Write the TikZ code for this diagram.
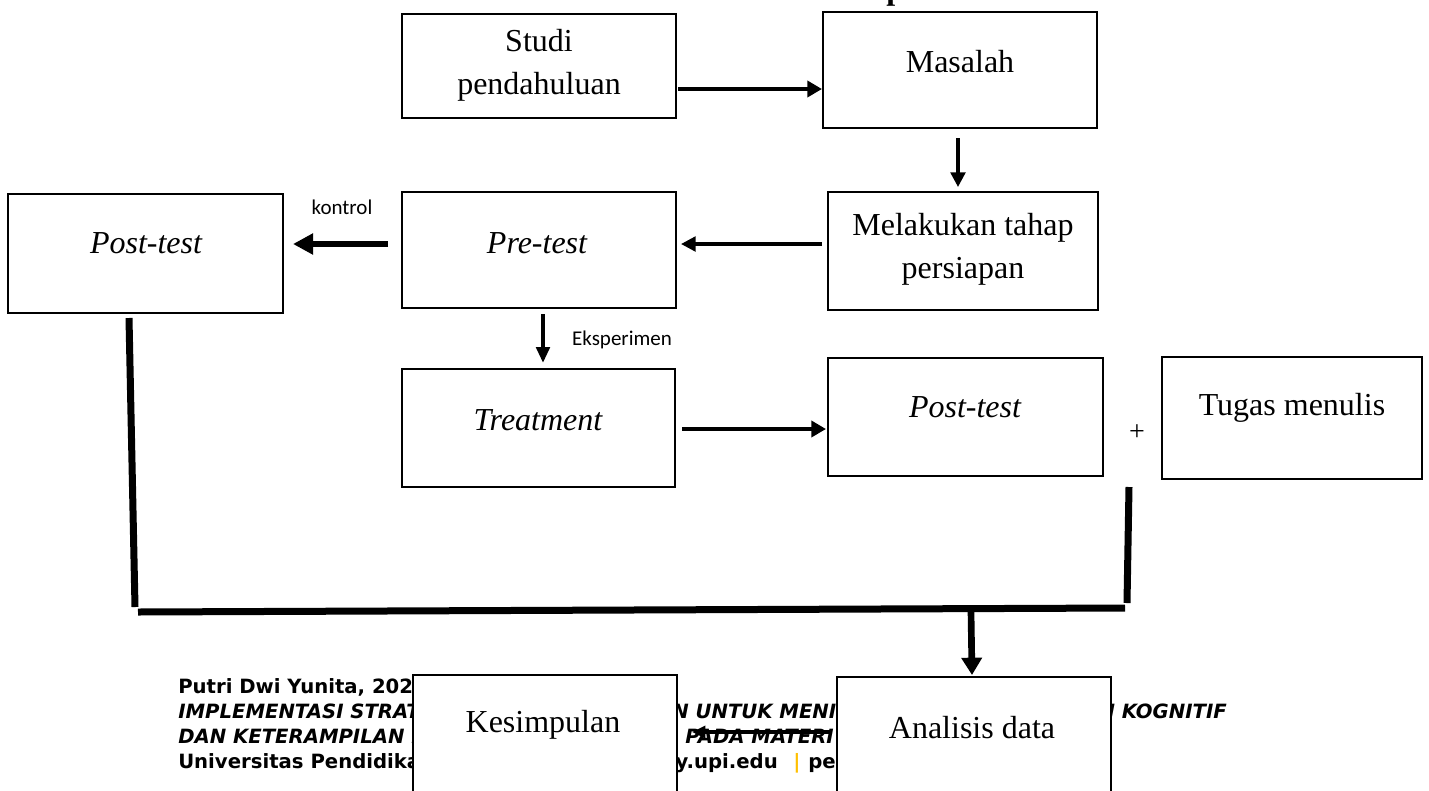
\documentclass[tikz,border=0pt]{standalone}
\usepackage{fontspec}
\setmainfont{Liberation Serif}
\newfontfamily\lblfont{Carlito}
\newfontfamily\footfont{DejaVu Sans}
\usetikzlibrary{arrows.meta,calc}
\definecolor{upiorange}{RGB}{255,192,0}
\begin{document}
\begin{tikzpicture}[x=0.75pt,y=-0.75pt]
\tikzset{
  box/.style={draw=black, line width=1.5pt, fill=white, inner sep=0pt},
  btxt/.style={font=\fontsize{24}{32}\selectfont, align=center, inner sep=0pt},
  itxt/.style={font=\fontsize{24}{32}\selectfont\itshape, align=center, inner sep=0pt},
  lbl/.style={font=\lblfont\fontsize{15.75}{18}\selectfont, inner sep=0pt},
  foot/.style={font=\footfont\bfseries\fontsize{14.75}{18}\selectfont, anchor=base west, inner sep=0pt},
  footi/.style={font=\footfont\bfseries\itshape\fontsize{14.75}{18}\selectfont, anchor=base west, inner sep=0pt},
  a1/.style={line width=3pt, -{Triangle[length=11pt,width=12pt]}},
  a2/.style={line width=2.5pt, -{Triangle[length=11pt,width=11pt]}},
  akontrol/.style={line width=4.5pt, -{Triangle[length=15pt,width=15pt]}},
  aeks/.style={line width=3pt, -{Triangle[length=12pt,width=10pt]}},
  adown/.style={line width=5pt, -{Triangle[length=13pt,width=15pt]}},
  aback/.style={line width=3pt, -{Triangle[length=10pt,width=9pt]}},
  thickline/.style={line width=5.25pt},
}
\fill[white] (0,0) rectangle (1429,790);
\useasboundingbox (0,0) rectangle (1429,790);

% cropped title
\node[font=\bfseries\fontsize{24}{30}\selectfont, anchor=base west, inner sep=0pt] (title) at (886,-1) {p};

% footer text (partly hidden by boxes)
\node[foot] (f1) at (178,693) {Putri Dwi Yunita, 2023};
\node[footi] (f2a) at (178,718) {IMPLEMENTASI STRATEGI};
\node[footi] (f2b) at (672,718) {N UNTUK MENINGKATKAN};
\node[footi, anchor=base east] (f2c) at (1227,718) {KEMAMPUAN KOGNITIF};
\node[footi] (f3a) at (178,743) {DAN KETERAMPILAN MENULIS};
\node[footi] (f3b) at (685,743) {PADA MATERI TEKS};
\node[foot] (f4a) at (178,768) {Universitas Pendidikan Indonesia};
\node[foot, anchor=base east] (f4b) at (778,768) {repository.upi.edu};
\node[foot, text=upiorange, anchor=base] (f4c) at (797,768) {|};
\node[foot] (f4d) at (808,768) {perpustakaan.upi.edu};

% boxes
\node[box, minimum width=205.5pt, minimum height=78pt] (studi) at (539,66) {};
\node[box, minimum width=205.5pt, minimum height=87pt] (masalah) at (960,70) {};
\node[box, minimum width=202.5pt, minimum height=88.5pt] (melakukan) at (963,251) {};
\node[box, minimum width=205.5pt, minimum height=87pt] (pre) at (539,250) {};
\node[box, minimum width=206.25pt, minimum height=89.25pt] (postL) at (145.5,253.5) {};
\node[box, minimum width=204.75pt, minimum height=88.5pt] (treat) at (538.5,428) {};
\node[box, minimum width=206.25pt, minimum height=88.5pt] (postR) at (965.5,417) {};
\node[box, minimum width=195pt, minimum height=91.5pt] (tugas) at (1292,418) {};
\node[box, minimum width=198pt, minimum height=109.5pt, anchor=north west] (kes) at (412,674) {};
\node[box, minimum width=205.5pt, minimum height=109.5pt, anchor=north west] (anal) at (836,676) {};

% box texts
\node[btxt] (studi-t) at (539,65.5) {Studi\\pendahuluan};
\node[btxt] (masalah-t) at (960,62) {Masalah};
\node[btxt] (melakukan-t) at (963,249) {Melakukan tahap\\persiapan};
\node[itxt] (pre-t) at (537,243) {Pre-test};
\node[itxt] (postL-t) at (146,243) {Post-test};
\node[itxt] (treat-t) at (538,420) {Treatment};
\node[itxt] (postR-t) at (965,407) {Post-test};
\node[btxt] (tugas-t) at (1292,408) {Tugas menulis};
\node[btxt, font=\fontsize{21}{24}\selectfont] (plus) at (1137,433) {+};
\node[btxt] (kes-t) at (543,725) {Kesimpulan};
\node[btxt] (anal-t) at (972,728) {Analisis data};

% labels
\node[lbl] (kontrol) at (342,207) {kontrol};
\node[lbl] (eksperimen) at (622,340) {Eksperimen};

% connectors
\draw[a1] ($(studi.east)+(1,23)$) -- ($(masalah.west)+(0,19)$);
\draw[a2] ($(masalah.south)+(-2,9)$) -- ($(melakukan.north)+(-5,-4)$);
\draw[a2] ($(melakukan.west)+(-5,-7)$) -- ($(pre.east)+(4,-6)$);
\draw[akontrol] ($(pre.west)+(-13,-6)$) -- ($(postL.east)+(9,-9.5)$);
\draw[aeks] ($(pre.south)+(4,5)$) -- ($(treat.north)+(4.5,-5)$);
\draw[a1] ($(treat.east)+(6,1)$) -- ($(postR.west)+(-1,12)$);

\coordinate (lb) at (135,607);
\coordinate (hl) at (138,612);
\coordinate (hr) at (1125,608);
\coordinate (rt) at (1129,487);
\coordinate (rb) at (1127,603);
\coordinate (split) at (971,611);
\draw[thickline] ($(postL.south)+(-16.5,4)$) -- (lb);
\draw[thickline] (hl) -- (hr);
\draw[thickline] (rt) -- (rb);
\draw[adown] (split) -- ($(anal.north)+(-2,-1)$);
\draw[aback] ($(anal.west)+(-4,-18)$) -- ($(kes.east)+(14,-16)$);
\end{tikzpicture}
\end{document}
